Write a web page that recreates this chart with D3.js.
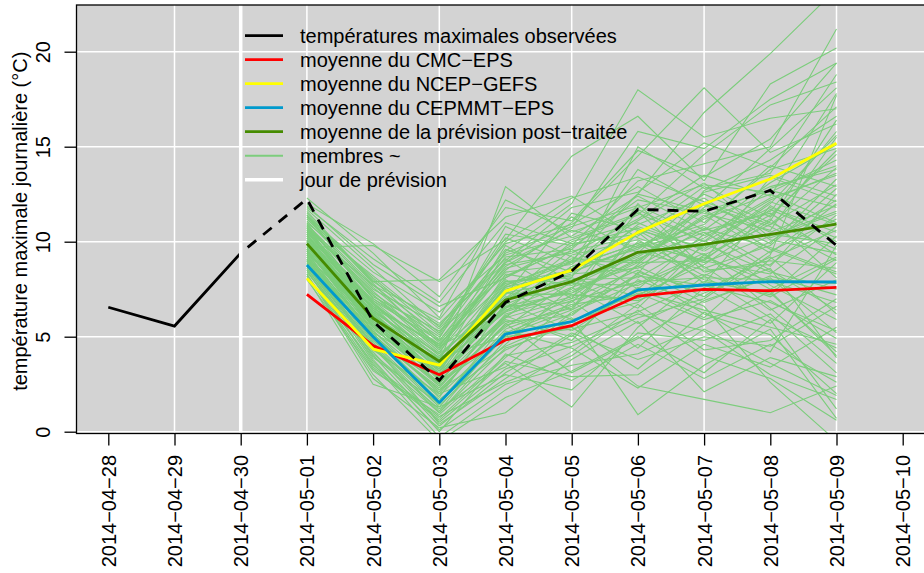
<!DOCTYPE html>
<html>
<head>
<meta charset="utf-8">
<script src="https://cdn.jsdelivr.net/npm/d3@7"></script>
<style>
  html, body { margin: 0; padding: 0; background: #ffffff; }
  svg { display: block; }
  text { font-family: "Liberation Sans", Arial, Helvetica, sans-serif; fill: #000; }
</style>
</head>
<body>
<svg id="chart" width="924" height="573"></svg>
<script>
// ---------- DATA ----------
const axisDates = ["2014-04-28","2014-04-29","2014-04-30","2014-05-01","2014-05-02","2014-05-03",
  "2014-05-04","2014-05-05","2014-05-06","2014-05-07","2014-05-08","2014-05-09","2014-05-10"];
const gridDates = ["2014-04-29","2014-05-01","2014-05-03","2014-05-05","2014-05-07","2014-05-09"];
const forecastDay = "2014-04-30";
const yTicks = [0, 5, 10, 15, 20];

const obsDates = ["2014-04-28","2014-04-29","2014-04-30","2014-05-01","2014-05-02","2014-05-03",
  "2014-05-04","2014-05-05","2014-05-06","2014-05-07","2014-05-08","2014-05-09"];
const observed = [6.55, 5.56, 9.4, 12.25, 5.8, 2.7, 6.8, 8.45, 11.7, 11.6, 12.7, 9.8];

const fcDates = ["2014-05-01","2014-05-02","2014-05-03","2014-05-04","2014-05-05",
  "2014-05-06","2014-05-07","2014-05-08","2014-05-09"];
const meanCMC    = [7.23, 4.53, 3.0, 4.83, 5.58, 7.14, 7.49, 7.42, 7.6];
const meanNCEP   = [8.07, 4.35, 3.5, 7.4, 8.5, 10.49, 12.0, 13.3, 15.18];
const meanCEPMMT = [8.77, 5.0, 1.53, 5.14, 5.79, 7.46, 7.72, 7.9, 7.88];
const meanPost   = [9.9, 5.97, 3.7, 6.93, 7.9, 9.44, 9.86, 10.39, 10.92];

const members = [
  [10.5, 6.8, 3.5, 9.5, 12.0, 18.0, 15.5, 16.5, 17.0],
  [10.2, 7.2, 4.2, 8.5, 11.0, 14.5, 18.1, 14.7, 16.2],
  [9.6, 5.5, 2.5, 7.0, 9.0, 12.5, 16.8, 19.9, 23.3],
  [11.2, 8.1, 5.2, 10.4, 9.8, 13.2, 14.1, 15.0, 21.2],
  [8.4, 4.1, 1.2, 3.6, 1.3, 5.5, 8.2, 6.0, 4.4],
  [9.1, 5.0, 2.2, 4.5, 6.0, 0.9, 3.5, 5.4, 0.7],
  [8.8, 4.6, 0.4, 2.8, 5.1, 2.4, 1.7, 1.0, 2.4],
  [12.3, 9.4, 6.0, 12.2, 10.5, 11.8, 13.0, 12.6, 14.3],
  [11.6, 7.9, 8.0, 11.3, 12.4, 10.2, 9.0, 13.4, 12.1],
  [10.8, 6.2, 3.0, 6.4, 7.4, 9.0, 11.3, 12.9, 13.8],
  [9.3, 4.8, 1.9, 5.2, 6.6, 8.7, 7.1, 9.5, 11.2],
  [10.0, 6.5, 4.6, 7.9, 8.2, 10.9, 12.3, 10.1, 9.4],
  [8.0, 3.2, 0.9, 4.0, 4.7, 6.2, 5.3, 3.0, 1.7],
  [9.7, 5.9, 3.8, 6.8, 9.6, 7.5, 10.4, 11.6, 15.8],
  [10.9, 7.5, 5.6, 9.1, 7.0, 12.0, 8.6, 9.8, 12.8],
  [11.9, 8.8, 6.6, 8.1, 10.1, 11.4, 14.6, 17.2, 18.4],
  [8.6, 3.9, 1.5, 5.7, 3.1, 4.9, 6.9, 8.1, 5.2],
  [9.4, 6.1, 2.7, 6.0, 8.7, 9.9, 8.0, 7.2, 10.3],
  [10.4, 5.2, 3.3, 7.6, 8.9, 13.8, 11.9, 10.8, 9.0],
  [9.0, 4.3, 2.0, 3.4, 6.3, 7.8, 9.4, 6.5, 3.6],
  [11.4, 7.0, 4.9, 10.8, 9.2, 8.3, 12.7, 14.3, 16.6],
  [10.1, 6.7, 4.4, 7.2, 11.5, 10.6, 9.7, 12.1, 10.9],
  [8.2, 3.6, -0.3, 2.2, 4.2, 6.7, 4.3, 4.8, 7.0],
  [9.8, 5.6, 3.1, 8.3, 7.7, 9.3, 10.8, 8.7, 12.5],
  [10.6, 7.7, 5.9, 9.9, 10.9, 12.9, 11.0, 13.8, 14.9],
  [9.2, 5.3, 2.4, 6.1, 4.8, 8.4, 7.4, 9.2, 6.2],
  [11.0, 6.4, 3.9, 5.0, 7.2, 7.0, 9.1, 11.2, 8.1],
  [8.9, 4.0, 1.0, 4.8, 5.5, 3.3, 6.3, 4.2, 9.8],
  [10.3, 6.9, 4.8, 8.8, 9.4, 11.2, 13.5, 12.4, 17.8],
  [9.5, 5.4, 2.9, 6.6, 6.8, 10.0, 8.9, 10.3, 11.6],
  [10.7, 6.0, 3.6, 7.3, 8.0, 8.1, 10.1, 7.7, 5.9],
  [12.0, 9.9, 7.1, 11.8, 11.1, 14.8, 13.4, 15.4, 19.4],
  [8.3, 2.8, 0.2, 1.0, 3.8, 5.8, 2.1, 3.9, 2.9],
  [9.9, 6.3, 4.1, 6.9, 8.6, 9.6, 11.6, 9.9, 13.3],
  [10.4, 5.8, 3.4, 8.0, 6.4, 10.5, 7.8, 11.9, 10.0],
  [9.0, 4.9, 2.6, 5.5, 7.9, 6.5, 9.9, 8.4, 7.5],
  [11.3, 8.4, 6.3, 9.3, 10.3, 12.4, 10.6, 13.1, 15.1],
  [8.7, 4.4, 1.7, 4.3, 5.8, 7.3, 5.9, 6.9, 4.9],
  [10.0, 5.7, 3.2, 7.7, 9.0, 8.9, 12.0, 10.5, 11.9],
  [9.3, 6.6, 4.5, 6.3, 7.5, 11.6, 8.4, 9.0, 8.6],
  [10.9, 7.3, 5.0, 9.6, 8.4, 9.8, 10.9, 14.0, 12.9],
  [9.6, 5.1, 2.1, 5.9, 5.0, 8.0, 6.6, 2.6, -0.5],
  [10.2, 6.0, 3.7, 7.0, 10.0, 11.0, 9.5, 11.4, 14.6],
  [8.5, 3.4, 0.7, 3.9, 6.9, 4.4, 7.6, 5.7, 8.9],
  [11.1, 7.6, 4.7, 8.6, 9.5, 10.3, 12.5, 11.0, 9.6],
  [9.4, 5.0, 2.3, 6.2, 7.1, 9.5, 8.5, 8.8, 11.4],
  [10.6, 6.1, 3.9, 7.5, 8.3, 8.6, 10.2, 12.2, 13.6],
  [8.1, 2.5, 1.3, 3.0, 2.2, 5.2, 4.8, 6.2, 3.1],
  [10.8, 7.1, 5.3, 8.2, 9.7, 12.2, 11.5, 10.6, 15.5],
  [9.5, 5.6, 3.0, 6.5, 7.8, 7.7, 9.2, 7.9, 6.8],
  [10.3, 6.4, 3.6, 12.9, 10.2, 11.5, 10.0, 12.8, 14.0],
  [9.7, 9.8, 7.9, 10.1, 14.5, 16.6, 13.2, 18.3, 20.2],
  [11.5, 7.8, 4.4, 8.7, 10.7, 15.8, 14.9, 17.5, 19.4],
  [9.2, 5.9, 2.9, 6.7, 8.1, 15.0, 12.8, 13.6, 18.8],
  [10.0, 6.3, 3.2, 5.8, 6.1, 8.8, 11.8, 14.9, 18.1],
  [8.9, 4.2, 0.5, 3.3, 4.5, 6.0, 7.0, 9.3, 17.7],
  [10.7, 7.4, 4.3, 9.0, 11.8, 12.6, 15.2, 13.9, 17.1],
  [9.1, 5.2, 1.6, 5.4, 6.7, 7.2, 8.8, 11.1, 16.4],
  [10.5, 6.6, 3.4, 7.8, 8.5, 10.8, 9.6, 12.0, 15.6],
  [11.7, 8.6, 5.5, 10.0, 12.3, 13.4, 12.1, 10.9, 13.0],
  [8.6, 3.7, 0.1, 2.5, 3.5, 4.1, 5.6, 7.4, 4.0],
  [9.8, 5.5, 2.6, 4.9, 6.2, 8.3, 6.2, 5.1, 2.0],
  [10.1, 6.8, 4.0, 7.1, 7.3, 9.1, 10.5, 8.5, 6.4],
  [9.0, 4.5, 1.1, 5.3, 4.4, 2.3, 4.6, 3.4, 5.5],
  [11.3, 7.9, 5.7, 8.9, 10.6, 9.7, 11.7, 9.6, 8.3],
  [8.3, 3.0, -0.5, 1.8, 3.2, 5.0, 3.1, 5.9, 1.2],
  [10.4, 6.5, 3.5, 6.3, 9.3, 10.1, 8.2, 10.0, 12.2],
  [9.5, 5.8, 2.8, 7.4, 5.9, 6.8, 9.3, 7.5, 9.2],
  [10.9, 7.0, 4.6, 8.4, 8.8, 11.7, 10.0, 11.8, 10.5],
  [9.3, 4.7, 1.4, 4.6, 7.6, 5.7, 7.3, 8.6, 3.9],
  [10.6, 6.9, 4.1, 9.8, 7.9, 9.2, 11.2, 12.5, 11.0],
  [8.7, 4.0, 0.3, 3.1, 5.2, 3.8, 5.0, 4.5, 6.6],
  [11.8, 9.1, 6.8, 11.0, 9.9, 10.4, 12.9, 11.3, 14.8],
  [9.6, 5.3, 2.0, 6.0, 7.0, 8.5, 6.8, 8.2, 7.2],
  [10.2, 6.2, 3.3, 7.9, 8.1, 7.1, 9.8, 10.4, 9.9],
  [8.5, 3.5, 0.8, 2.6, 4.0, 6.4, 4.0, 2.8, 0.6],
  [10.8, 7.2, 4.5, 8.9, 11.3, 9.4, 12.6, 13.5, 12.4],
  [9.9, 5.7, 2.4, 5.6, 6.5, 10.6, 8.7, 6.4, 8.0],
  [9.4, 5.0, 1.8, 6.8, 5.3, 7.6, 6.0, 9.1, 10.6],
  [11.0, 8.2, 5.4, 9.4, 10.8, 11.9, 10.3, 12.3, 13.5],
  [8.8, 3.8, 0.0, 4.1, 2.7, 4.6, 2.8, 4.6, 2.6],
  [10.3, 6.1, 3.0, 7.7, 9.1, 9.0, 11.4, 9.4, 12.0],
  [9.2, 4.6, 1.3, 5.1, 6.4, 8.2, 7.7, 6.8, 5.3],
  [10.7, 6.7, 3.8, 6.5, 8.7, 9.9, 9.0, 11.7, 10.2],
  [9.7, 5.5, 2.5, 7.3, 7.2, 6.9, 8.3, 7.1, 9.1],
  [11.2, 7.7, 5.1, 10.2, 8.9, 11.1, 13.1, 10.2, 11.5],
  [9.0, 4.4, 1.0, 4.4, 5.6, 7.4, 6.4, 5.5, 4.6],
  [10.1, 6.0, 2.9, 6.1, 7.6, 8.7, 10.7, 9.7, 8.4],
  [8.2, 3.3, 0.6, 3.7, 2.9, 3.0, 5.4, 3.6, 1.9],
  [10.5, 6.4, 3.9, 8.1, 9.8, 10.7, 9.3, 10.9, 13.9],
  [9.6, 5.1, 2.2, 5.7, 6.9, 7.9, 8.1, 8.0, 7.8],
  [11.4, 8.0, 4.8, 9.2, 9.6, 12.5, 11.6, 12.7, 11.8],
  [9.1, 4.9, 1.5, 5.0, 5.4, 6.3, 7.9, 7.3, 4.2],
  [10.0, 5.6, 2.8, 7.6, 8.4, 9.7, 10.6, 11.5, 9.3],
  [9.8, 6.2, 3.4, 6.6, 7.3, 8.9, 9.0, 8.3, 10.8]
];

const legendLabels = ["températures maximales observées", "moyenne du CMC\u2212EPS",
  "moyenne du NCEP\u2212GEFS", "moyenne du CEPMMT\u2212EPS",
  "moyenne de la prévision post\u2212traitée", "membres ~", "jour de prévision"];
const legendColors = ["#000000", "#ff0000", "#ffff00", "#009acd", "#458b00", "#7ccd7c", "#ffffff"];
const yTitle = "température maximale journalière (°C)";

// ---------- LAYOUT ----------
const svg = d3.select("#chart");
const parse = d3.utcParse("%Y-%m-%d");
const L = 76.5, R = 934.5, T = 5, B = 433.5;

const x = d3.scaleUtc()
  .domain([parse("2014-04-28"), parse("2014-05-10")])
  .range([108.3, 108.3 + 66.2 * 12]);
const y = d3.scaleLinear().domain([0, 20]).range([431.7, 431.7 - 19 * 20]);

const bg = "#d3d3d3";
svg.append("rect").attr("x", L).attr("y", T).attr("width", R - L).attr("height", B - T).attr("fill", bg);

svg.append("defs").append("clipPath").attr("id", "plotclip")
  .append("rect").attr("x", L).attr("y", T).attr("width", R - L).attr("height", B - T);

const plot = svg.append("g").attr("clip-path", "url(#plotclip)");

// grid
plot.selectAll("line.hg").data(yTicks).join("line")
  .attr("x1", L).attr("x2", R).attr("y1", d => y(d)).attr("y2", d => y(d))
  .attr("stroke", "#fff").attr("stroke-width", 1.5);
plot.selectAll("line.vg").data(gridDates).join("line")
  .attr("x1", d => x(parse(d))).attr("x2", d => x(parse(d))).attr("y1", T).attr("y2", B)
  .attr("stroke", "#fff").attr("stroke-width", 1.5);

const line = d3.line().x(d => x(parse(d[0]))).y(d => y(d[1]));
const zipF = vals => fcDates.map((d, i) => [d, vals[i]]);

// members
plot.selectAll("path.member").data(members).join("path")
  .attr("d", m => line(zipF(m)))
  .attr("fill", "none").attr("stroke", "#7ccd7c").attr("stroke-width", 1.1);

// means
[[meanCMC, legendColors[1]], [meanNCEP, legendColors[2]], [meanCEPMMT, legendColors[3]], [meanPost, legendColors[4]]]
  .forEach(([vals, col]) => {
    plot.append("path").attr("d", line(zipF(vals)))
      .attr("fill", "none").attr("stroke", col).attr("stroke-width", 2.8).attr("stroke-linejoin", "round");
  });

// observed
const obsPairs = obsDates.map((d, i) => [d, observed[i]]);
const iF = obsDates.indexOf(forecastDay);
plot.append("path").attr("d", line(obsPairs.slice(0, iF + 1)))
  .attr("fill", "none").attr("stroke", "#000").attr("stroke-width", 2.8);
plot.append("path").attr("d", line(obsPairs.slice(iF)))
  .attr("fill", "none").attr("stroke", "#000").attr("stroke-width", 2.8)
  .attr("stroke-dasharray", "11,9").attr("stroke-dashoffset", 11);

// forecast day line
plot.append("line")
  .attr("x1", x(parse(forecastDay))).attr("x2", x(parse(forecastDay))).attr("y1", T).attr("y2", B)
  .attr("stroke", "#fff").attr("stroke-width", 3.5);

// box
svg.append("rect").attr("x", L).attr("y", T).attr("width", R - L).attr("height", B - T)
  .attr("fill", "none").attr("stroke", "#000").attr("stroke-width", 1.3);

// axes
const fontSize = 20;
const xAxis = svg.append("g").attr("transform", `translate(0,${B})`)
  .call(d3.axisBottom(x).tickValues(axisDates.map(parse)).tickSize(12).tickSizeOuter(0)
    .tickFormat(d => d3.utcFormat("%Y-%m-%d")(d).replace(/-/g, "\u2212")));
xAxis.select(".domain").remove();
xAxis.selectAll(".tick line").attr("stroke", "#000").attr("stroke-width", 1.3);
xAxis.selectAll(".tick text")
  .attr("font-size", fontSize)
  .attr("transform", "rotate(-90)")
  .attr("x", -21.5).attr("y", 0).attr("dy", "0.35em")
  .attr("text-anchor", "end");

const yAxis = svg.append("g").attr("transform", `translate(${L},0)`)
  .call(d3.axisLeft(y).tickValues(yTicks).tickSize(12).tickSizeOuter(0));
yAxis.select(".domain").remove();
yAxis.selectAll(".tick line").attr("stroke", "#000").attr("stroke-width", 1.3);
yAxis.selectAll(".tick text")
  .attr("font-size", fontSize)
  .attr("transform", "rotate(-90)")
  .attr("x", 0).attr("y", -27).attr("dy", "0")
  .attr("text-anchor", "middle");

svg.append("text")
  .attr("transform", `translate(27,${(T + B) / 2 + 2}) rotate(-90)`)
  .attr("text-anchor", "middle").attr("font-size", fontSize)
  .text(yTitle);

// legend
const lg = svg.append("g");
legendLabels.forEach((lab, i) => {
  const ly = 35.7 + 24 * i;
  lg.append("line").attr("x1", 245).attr("x2", 283).attr("y1", ly).attr("y2", ly)
    .attr("stroke", legendColors[i]).attr("stroke-width", i === 5 ? 2 : (i === 6 ? 3.5 : 2.8));
  lg.append("text").attr("x", 300).attr("y", ly).attr("dy", "0.35em")
    .attr("font-size", fontSize).text(lab);
});
</script>
</body>
</html>
